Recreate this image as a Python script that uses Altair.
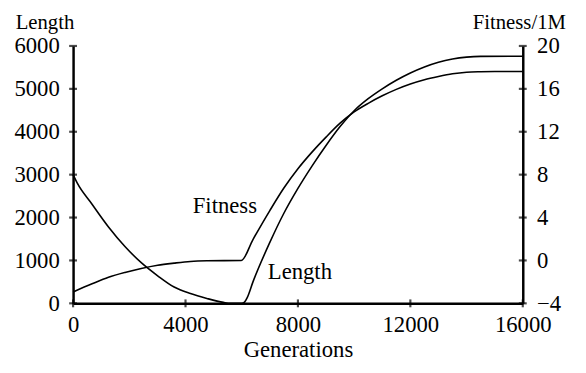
import altair as alt
import pandas as pd

# ---- data ----
length_gen = [0, 150, 675, 1260, 1845, 2425, 3010, 3595, 4176, 4760, 5345, 5600, 6000,
              6100, 6200, 6400, 7000, 7500, 8000, 8500, 9000, 9500, 10000, 10500,
              11000, 11500, 12000, 12500, 13000, 13500, 14000, 14500, 16000]
length_val = [3000, 2800, 2310, 1780, 1325, 948, 643, 380, 227, 114, 23, 0, 0,
              30, 140, 500, 1420, 2100, 2680, 3200, 3680, 4120, 4490, 4770,
              5000, 5200, 5370, 5510, 5620, 5695, 5740, 5758, 5762]

fit_gen = [0, 675, 1260, 1845, 2425, 3010, 3595, 4176, 4760, 5985, 6400, 7000, 7500,
           8000, 8500, 9000, 9500, 10000, 10500, 11000, 11500, 12000, 12500, 13000,
           13500, 14000, 14500, 15000, 16000]
fit_val = [-2.94, -2.18, -1.57, -1.12, -0.75, -0.45, -0.25, -0.09, -0.03, 0.0, 1.95, 4.65, 6.75,
           8.55, 10.1, 11.5, 12.8, 13.85, 14.65, 15.35, 15.95, 16.45, 16.85, 17.15,
           17.4, 17.55, 17.6, 17.62, 17.62]

x_ticks = [0, 4000, 8000, 12000, 16000]
length_ticks = [0, 1000, 2000, 3000, 4000, 5000, 6000]
fitness_ticks = [-4, 0, 4, 8, 12, 16, 20]

label_text = ["Fitness", "Length"]
label_gen = [5400, 8070]
label_len = [2096, 570]

FONT = "Liberation Serif"
FS = 23
TFS = 21

len_df = pd.DataFrame({"gen": length_gen, "len": length_val})
fit_df = pd.DataFrame({"gen": fit_gen, "fit": fit_val})
ytick_df = pd.DataFrame({"gen": [0] * len(length_ticks) + [16000] * len(length_ticks),
                         "len": length_ticks + length_ticks})
xtick_df = pd.DataFrame({"gen": x_ticks, "len": [0] * len(x_ticks)})
lab_df = pd.DataFrame({"gen": label_gen, "len": label_len, "t": label_text})

xs = alt.Scale(domain=[0, 16000], nice=False, zero=False)
ly = alt.Scale(domain=[0, 6000], nice=False, zero=False)
fy = alt.Scale(domain=[-4, 20], nice=False, zero=False)

x_axis = alt.Axis(values=x_ticks, title="Generations", ticks=False, grid=False,
                  format="d", labelPadding=11, titlePadding=2, labelFlush=False,
                  titleFontSize=FS)
l_axis = alt.Axis(values=length_ticks, title="Length", titleAngle=0, titleX=-29, titleY=-17.3,
                  titleAlign="center", titleBaseline="alphabetic", ticks=False, grid=False,
                  format="d", labelPadding=14, labelFlush=False, titleFontSize=TFS)
f_axis = alt.Axis(orient="right", values=fitness_ticks, title="Fitness/1M", titleAngle=0,
                  titleX=-4, titleY=-17.3, titleAlign="center", titleBaseline="alphabetic",
                  ticks=False, grid=False, format="d", labelPadding=14, labelFlush=False,
                  titleFontSize=TFS)

X = alt.X("gen:Q", scale=xs, axis=x_axis, title="Generations")
YL = alt.Y("len:Q", scale=ly, axis=l_axis, title="Length")

length_line = alt.Chart(len_df).mark_line(color="black", strokeWidth=1.6, interpolate="monotone").encode(
    x=X, y=YL)

yticks = alt.Chart(ytick_df).mark_tick(orient="horizontal", size=8, thickness=2.2, color="black").encode(
    x=X, y=YL)
xticks = alt.Chart(xtick_df).mark_tick(orient="vertical", size=8, thickness=2.2, color="black").encode(
    x=X, y=YL)
labels = alt.Chart(lab_df).mark_text(font=FONT, fontSize=FS, color="black", align="center",
                                     baseline="alphabetic").encode(
    x=X, y=YL, text="t:N")

fitness_line = alt.Chart(fit_df).mark_line(color="black", strokeWidth=1.6, interpolate="monotone").encode(
    x=X,
    y=alt.Y("fit:Q", scale=fy, axis=f_axis, title="Fitness/1M"),
)

left = alt.layer(length_line, yticks, xticks, labels)
right = alt.layer(fitness_line)

chart = alt.layer(left, right).resolve_scale(y="independent").properties(
    width=456, height=261,
    padding={"left": 66, "top": 36, "right": 56, "bottom": 58},
    autosize=alt.AutoSizeParams(type="none"),
).configure_view(stroke=None).configure_axis(
    labelFont=FONT, labelFontSize=FS, labelColor="black",
    titleFont=FONT, titleFontWeight="normal", titleColor="black",
    domainColor="black", domainWidth=2.5,
)

chart.save("out.html", embed_options={"renderer": "svg", "actions": False})
